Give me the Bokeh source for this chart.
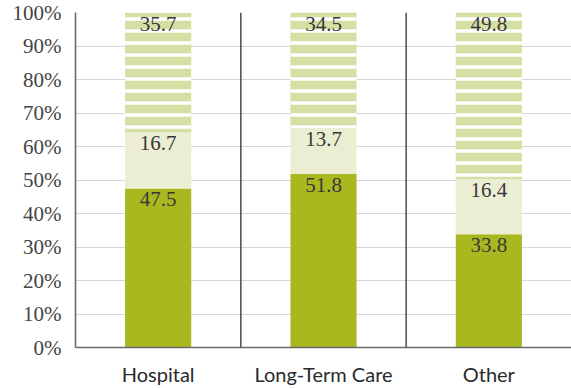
from bokeh.plotting import figure
from bokeh.models import ColumnDataSource, FixedTicker, Span, Range1d, LabelSet
from bokeh.embed import file_html
from bokeh.resources import INLINE

# Share of spending by setting (percent)
categories = ["Hospital", "Long-Term Care", "Other"]
base_share = [47.5, 51.8, 33.8]
middle_share = [16.7, 13.7, 16.4]
top_share = [35.7, 34.5, 49.8]
y_ticks = [0, 10, 20, 30, 40, 50, 60, 70, 80, 90, 100]

DARK = "#a9b81f"
PALE = "#eceed3"
STRIPE = "#d6dfa3"

x = [i + 0.5 for i in range(len(categories))]
b0 = [0.0] * len(categories)
b1 = [a for a in base_share]
b2 = [a + m for a, m in zip(base_share, middle_share)]
b3 = [a + t for a, t in zip(b2, top_share)]

src = ColumnDataSource(dict(
    x=x, b0=b0, b1=b1, b2=b2, b3=b3,
    l1=[f"{v:.1f}" for v in base_share],
    l2=[f"{v:.1f}" for v in middle_share],
    l3=[f"{v:.1f}" for v in top_share],
))

p = figure(width=571, height=388, output_backend="svg", toolbar_location=None,
           x_range=Range1d(0, 3), y_range=Range1d(0, 100),
           min_border_left=75, min_border_right=0, min_border_top=12, min_border_bottom=38)
p.outline_line_color = None
p.background_fill_color = "white"
p.border_fill_color = "white"

# Gridlines
p.xgrid.grid_line_color = None
p.ygrid.ticker = FixedTicker(ticks=y_ticks)
p.ygrid.grid_line_color = "#d6d6d6"
p.ygrid.grid_line_width = 1

# Stacked segments
p.vbar(x="x", width=0.4, bottom="b0", top="b1", source=src, fill_color=DARK, line_color=None)
p.vbar(x="x", width=0.4, bottom="b1", top="b2", source=src, fill_color=PALE, line_color=None)
p.vbar(x="x", width=0.4, bottom="b2", top="b3", source=src, fill_color=STRIPE, line_color=None,
       hatch_pattern="horizontal_line", hatch_color="white", hatch_scale=12, hatch_weight=3.5)

# Separators between categories
for i in range(1, len(categories)):
    p.add_layout(Span(location=i, dimension="height", line_color="#555555", line_width=1.6))

# Value labels at the top of each segment
for top_col, lab_col in (("b1", "l1"), ("b2", "l2"), ("b3", "l3")):
    p.add_layout(LabelSet(x="x", y=top_col, text=lab_col, source=src,
                          text_align="center", text_baseline="top", y_offset=-4,
                          text_font="Liberation Serif", text_font_size="21px",
                          text_color="#383838"))

# Axes
p.yaxis.ticker = FixedTicker(ticks=y_ticks)
p.yaxis.major_label_overrides = {t: f"{t}%" for t in y_ticks}
p.yaxis.major_label_text_font = "Liberation Serif"
p.yaxis.major_label_text_font_size = "21px"
p.yaxis.major_label_text_color = "#444444"
p.yaxis.major_tick_line_color = None
p.yaxis.minor_tick_line_color = None
p.yaxis.axis_line_color = "#6a6a6a"
p.yaxis.axis_line_width = 1.6
p.yaxis.major_label_standoff = 8

p.xaxis.ticker = FixedTicker(ticks=x)
p.xaxis.major_label_overrides = {xi: c for xi, c in zip(x, categories)}
p.xaxis.major_label_text_font = "Lato"
p.xaxis.major_label_text_font_size = "20px"
p.xaxis.major_label_text_color = "#2a2a2a"
p.xaxis.major_tick_line_color = None
p.xaxis.minor_tick_line_color = None
p.xaxis.axis_line_color = "#6a6a6a"
p.xaxis.axis_line_width = 1.6
p.xaxis.major_label_standoff = 8

open("out.html", "w").write(file_html(p, INLINE))
